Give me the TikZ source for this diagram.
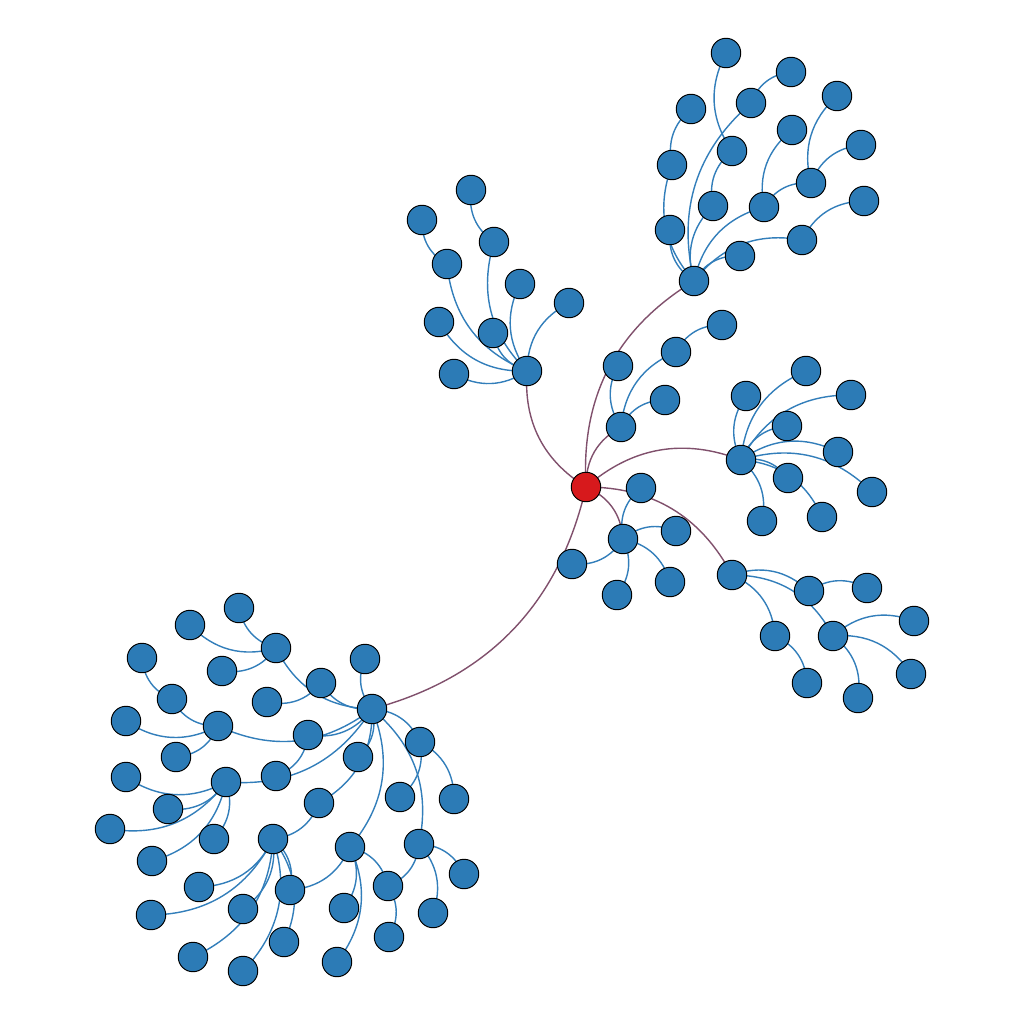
\documentclass[tikz,border=0pt]{standalone}
\usetikzlibrary{backgrounds}
\definecolor{nblue}{RGB}{44,123,182}
\definecolor{nred}{RGB}{215,25,28}
\definecolor{eblue}{RGB}{50,126,186}
\definecolor{epurp}{RGB}{128,80,108}
\tikzset{
  vtx/.style={circle, fill=nblue, draw=black, line width=0.55pt, minimum size=0.59cm, inner sep=0pt},
  rootv/.style={vtx, fill=nred},
  ed/.style={draw=eblue, line width=0.8pt},
  red/.style={draw=epurp, line width=0.8pt},
}
\begin{document}
\begin{tikzpicture}[x=0.02cm, y=-0.02cm]
\useasboundingbox (0,0) rectangle (1024,1024);
% root
\node[rootv] (r) at (586,487) {};
% hub 1
\node[vtx] (h1) at (527,371) {};
\node[vtx] (h1a) at (494,242) {};
\node[vtx] (h1a1) at (471,190) {};
\node[vtx] (h1b) at (447,264) {};
\node[vtx] (h1b1) at (422,220) {};
\node[vtx] (h1c) at (520,284) {};
\node[vtx] (h1d) at (569,303) {};
\node[vtx] (h1e) at (439,322) {};
\node[vtx] (h1f) at (493,333) {};
\node[vtx] (h1g) at (454,374) {};
% hub 2
\node[vtx] (h2) at (694,281) {};
\node[vtx] (h2a) at (672,165) {};
\node[vtx] (h2a1) at (691,109) {};
\node[vtx] (h2b) at (670,230) {};
\node[vtx] (h2c) at (713,206) {};
\node[vtx] (h2c1) at (732,151) {};
\node[vtx] (h2c2) at (726,53) {};
\node[vtx] (h2d) at (751,103) {};
\node[vtx] (h2d1) at (791,72) {};
\node[vtx] (h2e) at (764,207) {};
\node[vtx] (h2e1) at (792,130) {};
\node[vtx] (h2e2) at (811,183) {};
\node[vtx] (h2e3) at (837,96) {};
\node[vtx] (h2e4) at (861,145) {};
\node[vtx] (h2f) at (740,256) {};
\node[vtx] (h2g) at (802,240) {};
\node[vtx] (h2g1) at (864,201) {};
% a
\node[vtx] (a) at (621,427) {};
\node[vtx] (a1) at (618,366) {};
\node[vtx] (a2) at (676,352) {};
\node[vtx] (a3) at (722,325) {};
\node[vtx] (a4) at (665,400) {};
% hub 3
\node[vtx] (h3) at (741,460) {};
\node[vtx] (h3a) at (746,396) {};
\node[vtx] (h3b) at (806,371) {};
\node[vtx] (h3c) at (851,395) {};
\node[vtx] (h3d) at (787,426) {};
\node[vtx] (h3e) at (838,452) {};
\node[vtx] (h3f) at (872,492) {};
\node[vtx] (h3g) at (788,478) {};
\node[vtx] (h3h) at (822,517) {};
\node[vtx] (h3i) at (762,521) {};
% b
\node[vtx] (b) at (623,539) {};
\node[vtx] (b1) at (641,488) {};
\node[vtx] (b2) at (676,531) {};
\node[vtx] (b3) at (670,582) {};
\node[vtx] (b4) at (617,595) {};
\node[vtx] (b5) at (572,564) {};
% hub 4
\node[vtx] (h4) at (732,575) {};
\node[vtx] (h4a) at (809,591) {};
\node[vtx] (h4a1) at (867,588) {};
\node[vtx] (h4b) at (833,636) {};
\node[vtx] (h4b1) at (914,621) {};
\node[vtx] (h4b2) at (911,674) {};
\node[vtx] (h4b3) at (858,698) {};
\node[vtx] (h4c) at (775,636) {};
\node[vtx] (h4c1) at (807,683) {};
% hub 5
\node[vtx] (h5) at (372,709) {};
\node[vtx] (p1) at (365,659) {};
\node[vtx] (p2) at (321,683) {};
\node[vtx] (p2a) at (267,702) {};
\node[vtx] (p3) at (276,648) {};
\node[vtx] (p3a) at (239,608) {};
\node[vtx] (p3b) at (190,625) {};
\node[vtx] (p3c) at (222,671) {};
\node[vtx] (p4) at (308,735) {};
\node[vtx] (p4a) at (276,776) {};
\node[vtx] (p5) at (218,726) {};
\node[vtx] (p5a) at (126,721) {};
\node[vtx] (p5b) at (176,757) {};
\node[vtx] (p5c) at (172,699) {};
\node[vtx] (p5d) at (142,658) {};
\node[vtx] (p6) at (226,782) {};
\node[vtx] (p6a) at (126,777) {};
\node[vtx] (p6b) at (168,809) {};
\node[vtx] (p6c) at (110,829) {};
\node[vtx] (p6d) at (214,839) {};
\node[vtx] (p6e) at (152,861) {};
\node[vtx] (p7) at (358,757) {};
\node[vtx] (p8) at (319,803) {};
\node[vtx] (p8a) at (273,839) {};
\node[vtx] (q1) at (199,887) {};
\node[vtx] (q2) at (151,915) {};
\node[vtx] (q3) at (243,909) {};
\node[vtx] (q4) at (193,957) {};
\node[vtx] (q5) at (290,890) {};
\node[vtx] (q6) at (284,942) {};
\node[vtx] (q7) at (243,971) {};
\node[vtx] (p9) at (350,847) {};
\node[vtx] (p9a) at (344,908) {};
\node[vtx] (p9b) at (337,962) {};
\node[vtx] (p9c) at (388,886) {};
\node[vtx] (p9d) at (389,937) {};
\node[vtx] (p10) at (419,844) {};
\node[vtx] (p10a) at (464,874) {};
\node[vtx] (p10b) at (433,913) {};
\node[vtx] (p11) at (420,742) {};
\node[vtx] (p11a) at (400,797) {};
\node[vtx] (p11b) at (454,799) {};
\begin{scope}[on background layer]
\foreach \s/\t in {r/h1, r/h2, r/a, r/h3, r/b, r/h4, r/h5}
  \draw[red] (\s.center) to[bend left=31] (\t.center);
\foreach \s/\t in {h1/h1a, h1a/h1a1, h1/h1b, h1b/h1b1, h1/h1c, h1/h1d, h1/h1e, h1/h1f, h1/h1g,
  h2/h2a, h2a/h2a1, h2/h2b, h2/h2c, h2c/h2c1, h2c1/h2c2, h2/h2d, h2d/h2d1, h2/h2e, h2e/h2e1, h2e/h2e2, h2e2/h2e3, h2e2/h2e4, h2/h2f, h2/h2g, h2g/h2g1,
  a/a1, a/a2, a2/a3, a/a4,
  h3/h3a, h3/h3b, h3/h3c, h3/h3d, h3/h3e, h3/h3f, h3/h3g, h3/h3h, h3/h3i,
  b/b1, b/b2, b/b3, b/b4, b/b5,
  h4/h4a, h4a/h4a1, h4/h4b, h4b/h4b1, h4b/h4b2, h4b/h4b3, h4/h4c, h4c/h4c1,
  h5/p1, h5/p2, p2/p2a, h5/p3, p3/p3a, p3/p3b, p3/p3c, h5/p4, p4/p4a,
  h5/p5, p5/p5a, p5/p5b, p5/p5c, p5c/p5d,
  h5/p6, p6/p6a, p6/p6b, p6/p6c, p6/p6d, p6/p6e,
  h5/p7, h5/p8, p8/p8a, p8a/q1, p8a/q2, p8a/q3, p8a/q4, p8a/q5, p8a/q6, p8a/q7,
  h5/p9, p9/p9a, p9/p9b, p9/p9c, p9/q5, p9c/p9d,
  h5/p10, p10/p10a, p10/p10b, p10/p9c,
  h5/p11, p11/p11a, p11/p11b}
  \draw[ed] (\s.center) to[bend left=31] (\t.center);
\end{scope}
\end{tikzpicture}
\end{document}
